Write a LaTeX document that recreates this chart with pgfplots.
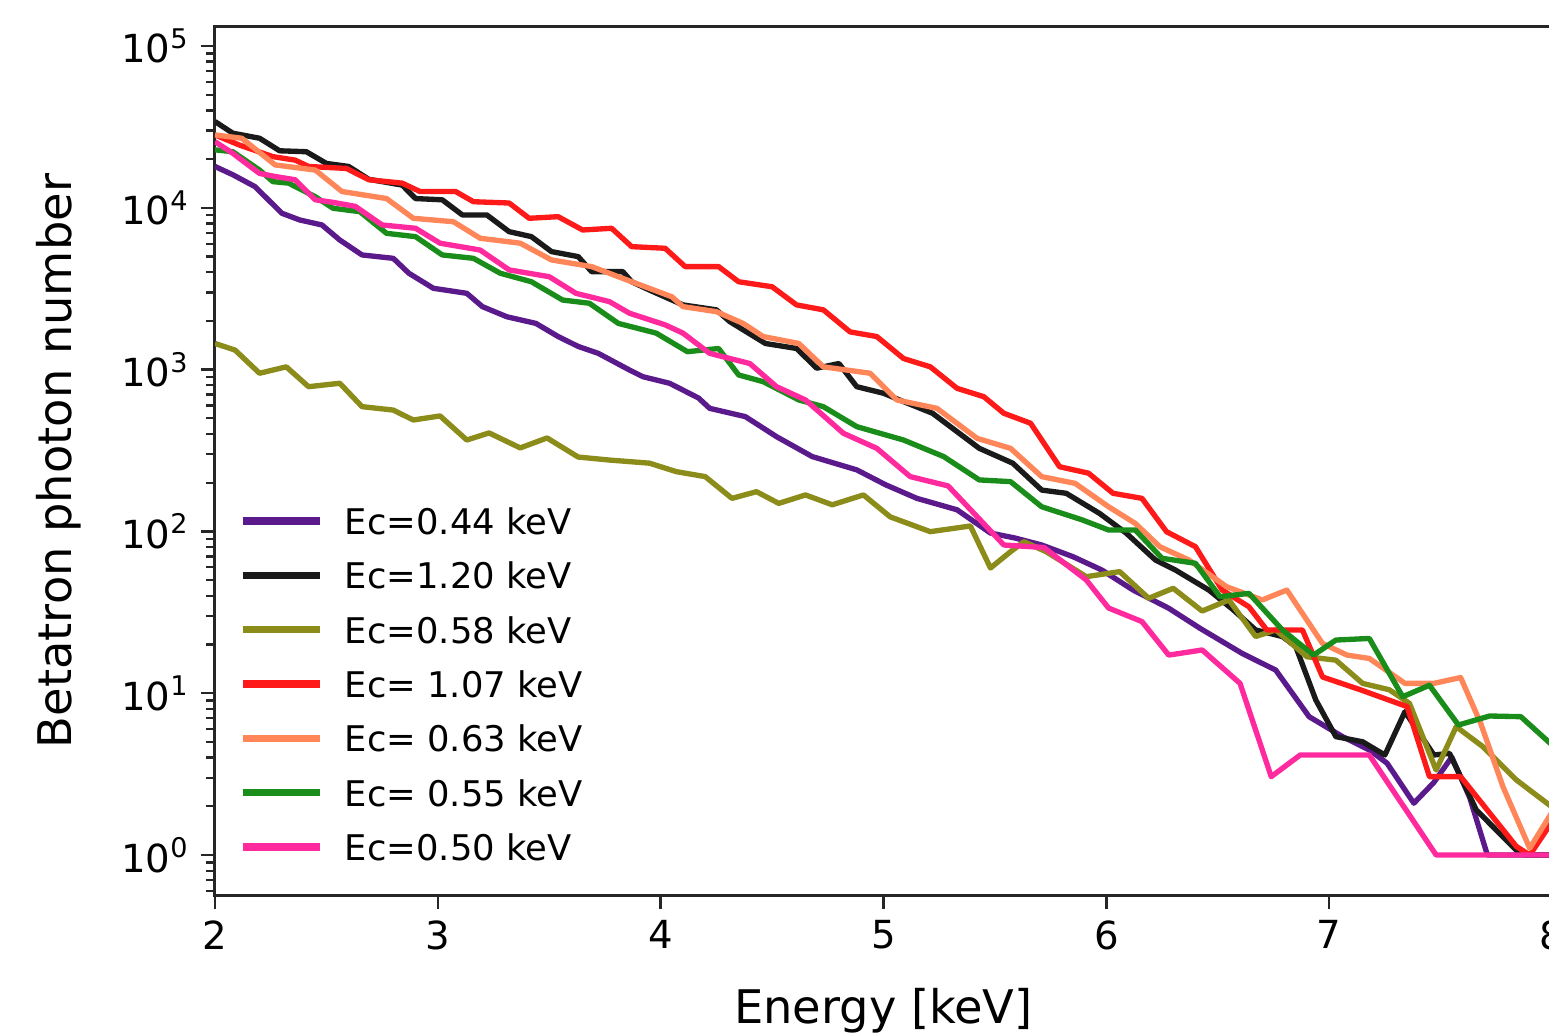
\documentclass[border=0pt]{standalone}
\usepackage{fontspec}
\setmainfont{DejaVu Sans}
\usepackage{pgfplots}
\pgfplotsset{compat=1.18}
\definecolor{cpurple}{HTML}{5A1A8C}
\definecolor{cblack}{HTML}{1A1A1A}
\definecolor{colive}{HTML}{8C8C1A}
\definecolor{cred}{HTML}{FF1A1A}
\definecolor{corange}{HTML}{FF8659}
\definecolor{cgreen}{HTML}{1A8C1A}
\definecolor{cpink}{HTML}{FF2B9E}
\begin{document}
\begin{tikzpicture}
\begin{axis}[
  scale only axis,
  width=401.1pt, height=260.4pt,
  xmin=2, xmax=8,
  ymode=log, ymin=0.566, ymax=1.31e5,
  xtick={2,3,4,5,6,7,8},
  xtick pos=bottom, ytick pos=left,
  ytick={1,10,100,1000,10000,100000},
  yticklabels={10\textsuperscript{0},10\textsuperscript{1},10\textsuperscript{2},10\textsuperscript{3},10\textsuperscript{4},10\textsuperscript{5}},
  minor ytick={0.6,0.7,0.8,0.9,2,3,4,5,6,7,8,9,20,30,40,50,60,70,80,90,200,300,400,500,600,700,800,900,2000,3000,4000,5000,6000,7000,8000,9000,20000,30000,40000,50000,60000,70000,80000,90000},
  tick align=outside,
  major tick length=4.2pt,
  minor tick length=2.6pt,
  tick style={line width=0.7pt, black!85},
  axis line style={line width=0.9pt, black!85},
  /pgf/number format/assume math mode=true,
  ticklabel style={font=\fontsize{11.6}{13}\selectfont},
  xlabel={Energy [keV]},
  ylabel={Betatron photon number},
  every axis x label/.style={at={(axis description cs:0.5,-0.1475)}, anchor=base, font=\fontsize{13.9}{16}\selectfont},
  every axis y label/.style={at={(axis description cs:-0.1167,0.5)}, rotate=90, anchor=center, font=\fontsize{13.9}{16}\selectfont},
  legend cell align=left,
  legend style={draw=none, fill=none, inner sep=0pt, outer sep=0pt,
    at={(axis description cs:0.0179,0.4539)}, anchor=north west,
    font=\fontsize{10.6}{12}\selectfont, row sep=4.3pt, column sep=4.5pt,
    nodes={text height=8pt, text depth=0pt, inner sep=2pt}},
  legend image code/.code={\draw[#1, line width=2.2pt] (0pt,0pt) -- (23.1pt,0pt);},
  every axis plot/.append style={line width=1.6pt, line join=round},
]
% Ec=0.44 keV (purple)
\addplot[cpurple] coordinates {
(2.00,1.80e4)(2.08,1.60e4)(2.18,1.35e4)(2.30,9.25e3)(2.38,8.41e3)(2.48,7.83e3)(2.56,6.32e3)(2.66,5.11e3)(2.80,4.87e3)(2.87,3.94e3)(2.98,3.18e3)(3.13,2.96e3)(3.20,2.45e3)(3.31,2.12e3)(3.44,1.93e3)(3.54,1.60e3)(3.63,1.39e3)(3.72,1.26e3)(3.86,994)(3.92,904)(4.04,823)(4.17,667)(4.22,576)(4.38,512)(4.52,385)(4.68,290)(4.88,240)(5.01,194)(5.15,160)(5.33,136)(5.48,97.7)(5.59,91.0)(5.71,82.4)(5.85,69.8)(5.98,57.7)(6.12,43.4)(6.28,33.5)(6.42,25.2)(6.61,17.6)(6.76,13.9)(6.91,7.16)(7.06,5.39)(7.18,4.46)(7.26,3.69)(7.38,2.09)(7.47,2.81)(7.55,4.03)(7.63,2.28)(7.71,1.0)(8.00,1.0)};
\addlegendentry{Ec=0.44 keV}
% Ec=1.20 keV (black)
\addplot[cblack] coordinates {
(2.00,3.41e4)(2.08,2.89e4)(2.20,2.69e4)(2.29,2.25e4)(2.41,2.22e4)(2.50,1.88e4)(2.60,1.80e4)(2.69,1.50e4)(2.84,1.38e4)(2.90,1.14e4)(3.02,1.12e4)(3.11,9.03e3)(3.22,9.03e3)(3.32,7.12e3)(3.42,6.63e3)(3.51,5.36e3)(3.63,4.99e3)(3.69,4.03e3)(3.83,4.03e3)(3.87,3.49e3)(3.95,3.10e3)(4.10,2.51e3)(4.25,2.34e3)(4.31,1.98e3)(4.47,1.45e3)(4.61,1.35e3)(4.70,1.02e3)(4.80,1.09e3)(4.88,784)(5.00,714)(5.09,634)(5.22,537)(5.43,326)(5.58,264)(5.71,180)(5.82,172)(5.97,129)(6.09,97.3)(6.22,66.6)(6.31,57.7)(6.46,43.4)(6.57,32.7)(6.67,24.6)(6.79,22.4)(6.85,19.4)(6.94,9.08)(7.03,5.39)(7.15,5.01)(7.25,4.15)(7.34,7.69)(7.47,4.15)(7.54,4.25)(7.66,1.90)(7.84,1.07)(7.88,1.0)(8.00,1.0)};
\addlegendentry{Ec=1.20 keV}
% Ec=0.58 keV (olive)
\addplot[colive] coordinates {
(2.00,1.45e3)(2.09,1.32e3)(2.20,949)(2.32,1.04e3)(2.42,784)(2.56,823)(2.66,590)(2.80,562)(2.89,488)(3.01,517)(3.13,367)(3.23,406)(3.37,328)(3.49,378)(3.63,288)(3.77,276)(3.95,264)(4.07,234)(4.20,218)(4.32,160)(4.43,176)(4.53,149)(4.65,168)(4.77,146)(4.91,168)(5.03,123)(5.21,99.6)(5.39,108)(5.48,59.4)(5.57,74.9)(5.63,86.4)(5.73,74.9)(5.91,52.5)(6.06,56.4)(6.19,38.6)(6.30,44.5)(6.43,32.2)(6.55,37.7)(6.67,22.4)(6.76,24.6)(6.90,16.8)(7.03,16.0)(7.15,11.5)(7.27,10.5)(7.36,8.66)(7.48,3.35)(7.57,6.21)(7.69,4.67)(7.84,2.91)(8.00,1.98)};
\addlegendentry{Ec=0.58 keV}
% Ec=1.07 keV (red)
\addplot[cred] coordinates {
(2.00,2.82e4)(2.11,2.44e4)(2.26,2.07e4)(2.36,1.97e4)(2.42,1.80e4)(2.59,1.75e4)(2.69,1.49e4)(2.84,1.42e4)(2.92,1.26e4)(3.08,1.26e4)(3.16,1.09e4)(3.32,1.07e4)(3.41,8.61e3)(3.54,8.81e3)(3.65,7.29e3)(3.78,7.47e3)(3.87,5.75e3)(4.02,5.62e3)(4.11,4.33e3)(4.26,4.33e3)(4.35,3.49e3)(4.50,3.25e3)(4.61,2.51e3)(4.73,2.34e3)(4.85,1.71e3)(4.97,1.60e3)(5.09,1.17e3)(5.21,1.04e3)(5.33,766)(5.45,680)(5.54,537)(5.66,466)(5.79,251)(5.92,229)(6.03,172)(6.16,160)(6.27,99.6)(6.40,80.4)(6.52,43.4)(6.64,34.2)(6.72,24.6)(6.88,24.6)(6.97,12.6)(7.14,10.5)(7.35,8.26)(7.45,3.05)(7.59,3.05)(7.84,1.13)(7.90,1.0)(8.00,1.6)};
\addlegendentry{Ec= 1.07 keV}
% Ec=0.63 keV (orange)
\addplot[corange] coordinates {
(2.00,2.82e4)(2.12,2.69e4)(2.27,1.84e4)(2.45,1.71e4)(2.57,1.26e4)(2.77,1.14e4)(2.89,8.61e3)(3.07,8.20e3)(3.19,6.48e3)(3.37,6.04e3)(3.51,4.76e3)(3.69,4.33e3)(3.87,3.49e3)(4.05,2.82e3)(4.10,2.45e3)(4.25,2.28e3)(4.37,1.93e3)(4.46,1.60e3)(4.62,1.45e3)(4.73,1.04e3)(4.94,949)(5.06,649)(5.24,576)(5.42,376)(5.57,326)(5.71,218)(5.86,198)(6.01,142)(6.13,112)(6.24,80.4)(6.37,66.6)(6.54,45.5)(6.70,37.7)(6.81,43.4)(6.97,20.3)(7.08,17.2)(7.18,16.4)(7.34,11.5)(7.47,11.5)(7.59,12.5)(7.68,6.51)(7.78,2.64)(7.90,1.10)(8.00,1.84)};
\addlegendentry{Ec= 0.63 keV}
% Ec=0.55 keV (green)
\addplot[cgreen] coordinates {
(2.00,2.28e4)(2.08,2.22e4)(2.20,1.71e4)(2.26,1.45e4)(2.33,1.42e4)(2.45,1.17e4)(2.53,9.93e3)(2.65,9.46e3)(2.77,6.95e3)(2.90,6.63e3)(3.02,5.11e3)(3.16,4.87e3)(3.28,3.94e3)(3.42,3.49e3)(3.56,2.69e3)(3.68,2.57e3)(3.81,1.93e3)(3.98,1.68e3)(4.12,1.29e3)(4.26,1.35e3)(4.35,926)(4.46,842)(4.62,649)(4.73,590)(4.88,444)(5.09,367)(5.27,290)(5.43,208)(5.57,203)(5.71,142)(5.89,118)(6.01,102)(6.13,102)(6.25,68.2)(6.40,63.5)(6.51,39.5)(6.64,41.4)(6.79,24.6)(6.93,17.2)(7.03,21.3)(7.18,21.8)(7.33,9.51)(7.45,11.2)(7.58,6.36)(7.72,7.23)(7.86,7.16)(8.00,4.79)};
\addlegendentry{Ec= 0.55 keV}
% Ec=0.50 keV (pink)
\addplot[cpink] coordinates {
(2.00,2.56e4)(2.08,2.17e4)(2.20,1.63e4)(2.27,1.56e4)(2.36,1.49e4)(2.45,1.12e4)(2.53,1.08e4)(2.63,1.02e4)(2.75,7.83e3)(2.90,7.47e3)(3.01,6.04e3)(3.19,5.48e3)(3.32,4.13e3)(3.50,3.75e3)(3.62,2.96e3)(3.77,2.63e3)(3.86,2.23e3)(4.02,1.89e3)(4.10,1.68e3)(4.22,1.26e3)(4.40,1.09e3)(4.52,784)(4.65,649)(4.82,404)(4.97,326)(5.12,218)(5.29,191)(5.54,82.4)(5.72,79.5)(5.91,50.1)(6.01,33.6)(6.16,27.7)(6.28,17.2)(6.43,18.5)(6.60,11.5)(6.74,3.05)(6.87,4.15)(7.18,4.15)(7.48,1.0)(8.00,1.0)};
\addlegendentry{Ec=0.50 keV}
\coordinate (bbl) at (axis description cs:-0.1608,-0.159);
\coordinate (btr) at (axis description cs:0.99776,1.0311);
\end{axis}
\pgfresetboundingbox
\useasboundingbox (bbl) rectangle (btr);
\end{tikzpicture}
\end{document}
